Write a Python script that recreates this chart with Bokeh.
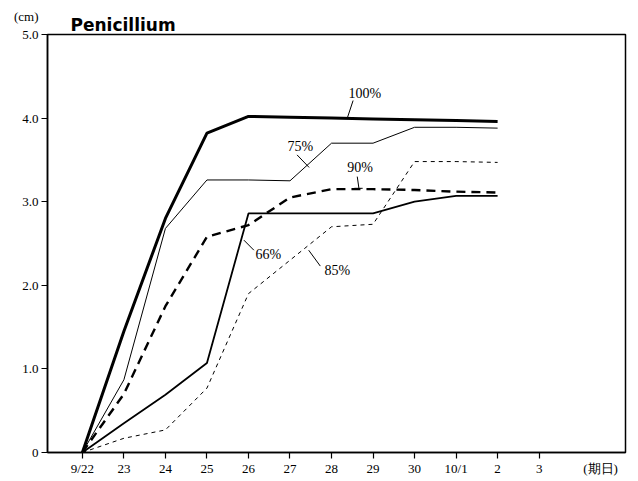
from bokeh.plotting import figure
from bokeh.models import Label, Range1d, FixedTicker, Title
from bokeh.embed import file_html
from bokeh.resources import INLINE

# ---- data ----
day_labels = ["9/22", "23", "24", "25", "26", "27", "28", "29", "30", "10/1", "2", "3"]
days = list(range(11))  # 9/22 .. 10/2
s100 = [0, 1.45, 2.80, 3.82, 4.02, 4.01, 4.00, 3.99, 3.98, 3.97, 3.96]
s75 = [0, 0.87, 2.68, 3.26, 3.26, 3.25, 3.70, 3.70, 3.89, 3.89, 3.88]
s90 = [0, 0.70, 1.75, 2.58, 2.72, 3.05, 3.15, 3.15, 3.14, 3.12, 3.11]
s66 = [0, 0.35, 0.69, 1.07, 2.86, 2.86, 2.86, 2.86, 3.00, 3.07, 3.07]
s85 = [0, 0.17, 0.27, 0.77, 1.90, 2.30, 2.70, 2.73, 3.48, 3.48, 3.47]
y_ticks = [0, 1, 2, 3, 4, 5]
y_tick_labels = ["0", "1.0", "2.0", "3.0", "4.0", "(cm)\n5.0\n "]
x_unit_label = "(期日)"
x_unit_pos = 12.48

p = figure(width=630, height=478, output_backend="svg", toolbar_location=None,
           x_range=Range1d(-0.84, 13.08), y_range=Range1d(0, 5),
           min_border_left=47, min_border_top=34, min_border_right=5, min_border_bottom=25)
p.background_fill_color = "white"
p.border_fill_color = "white"
p.outline_line_color = "black"
p.outline_line_width = 1.5
p.xgrid.visible = False
p.ygrid.visible = False

serif = "Liberation Serif"

day_ticks = list(range(len(day_labels)))
p.xaxis.ticker = FixedTicker(ticks=day_ticks + [x_unit_pos], minor_ticks=day_ticks)
overrides = {i: l for i, l in enumerate(day_labels)}
overrides[x_unit_pos] = x_unit_label
p.xaxis.major_label_overrides = overrides
p.yaxis.ticker = FixedTicker(ticks=y_ticks)
p.yaxis.major_label_overrides = {t: l for t, l in zip(y_ticks, y_tick_labels)}
for ax in (p.xaxis, p.yaxis):
    ax.axis_line_color = "black"
    ax.axis_line_width = 1.5
    ax.major_tick_line_color = "black"
    ax.major_tick_line_width = 1.2
    ax.major_tick_out = 6
    ax.major_tick_in = 0
    ax.minor_tick_line_color = None
    ax.major_label_text_font = serif
    ax.major_label_text_font_size = "13px"
    ax.major_label_text_color = "black"
# x: labels from major ticks (invisible marks), marks from minor ticks
p.xaxis.major_tick_line_alpha = 0
p.xaxis.minor_tick_line_color = "black"
p.xaxis.minor_tick_line_width = 1.2
p.xaxis.minor_tick_out = 6
p.xaxis.minor_tick_in = 0
p.xaxis.major_label_standoff = 2
p.yaxis.major_label_standoff = 3

# ---- series ----
p.line(days, s100, line_color="black", line_width=3)
p.line(days, s75, line_color="black", line_width=1)
p.line(days, s66, line_color="black", line_width=1.8)
p.line(days, s90, line_color="black", line_width=2.4, line_dash="9 6")
p.line(days, s85, line_color="black", line_width=1, line_dash="4 4")

# ---- curve labels with leader lines ----
lab_font = serif
labels = [
    ("100%", 6.41, 4.29),
    ("75%", 4.94, 3.66),
    ("90%", 6.38, 3.41),
    ("66%", 4.17, 2.37),
    ("85%", 5.83, 2.18),
]
for txt, lx, ly in labels:
    p.add_layout(Label(x=lx, y=ly, text=txt, text_font=lab_font, text_font_size="14px",
                       text_baseline="middle", text_align="left", text_color="black"))

leaders_x0 = [6.52, 5.17, 6.62, 3.89, 5.45, 6.55]
leaders_y0 = [4.21, 3.56, 3.30, 2.54, 2.42, 3.16]
leaders_x1 = [6.38, 5.46, 6.66, 4.13, 5.73, 6.75]
leaders_y1 = [4.00, 3.41, 3.16, 2.42, 2.23, 3.16]
p.segment(leaders_x0, leaders_y0, leaders_x1, leaders_y1, line_color="black", line_width=1)

# ---- title ----
p.add_layout(Title(text="Penicillium", text_font="DejaVu Sans", text_font_style="bold",
                   text_font_size="17px", align="left", offset=23, standoff=-1,
                   text_color="black"), "above")

open("out.html", "w").write(file_html(p, INLINE))
